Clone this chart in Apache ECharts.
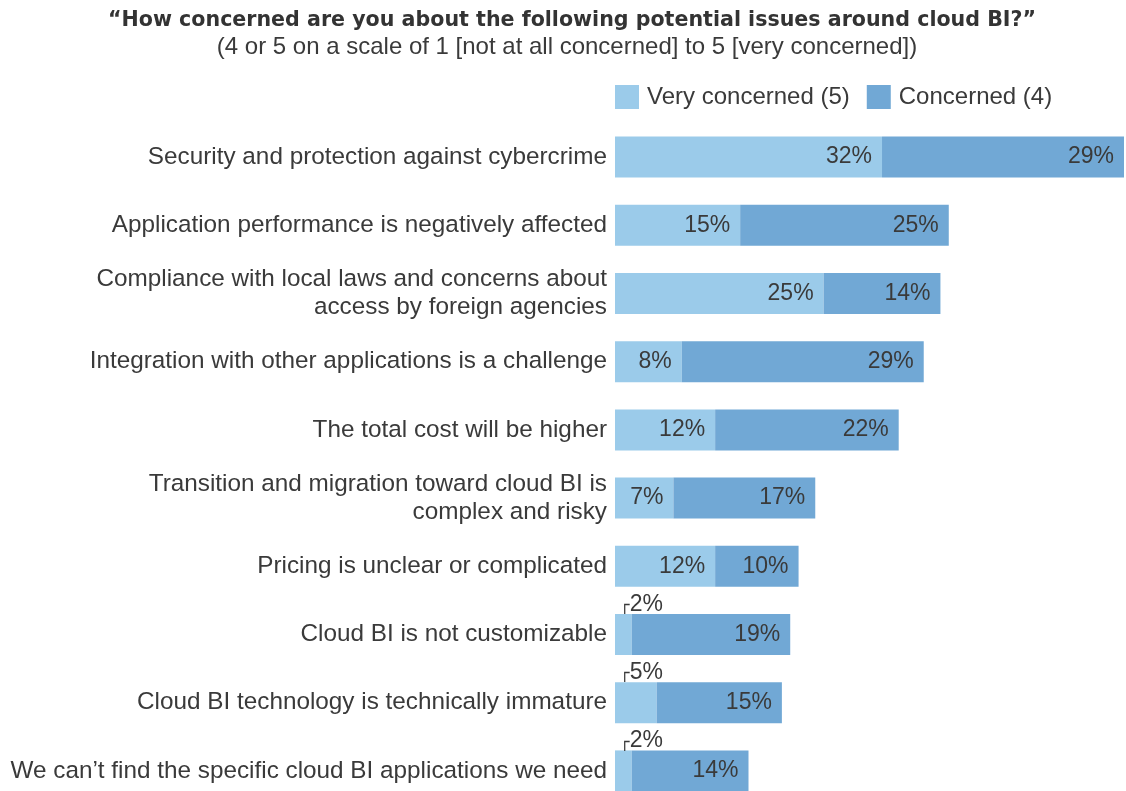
<!DOCTYPE html>
<html>
<head>
<meta charset="utf-8">
<script src="https://cdn.jsdelivr.net/npm/echarts@6/dist/echarts.min.js"></script>
<style>html,body{margin:0;padding:0;background:#fff;overflow:hidden}#c{width:1126px;height:830px}</style>
</head>
<body>
<div id="c"></div>
<script>
const categories = [
  'Security and protection against cybercrime',
  'Application performance is negatively affected',
  'Compliance with local laws and concerns about\naccess by foreign agencies',
  'Integration with other applications is a challenge',
  'The total cost will be higher',
  'Transition and migration toward cloud BI is\ncomplex and risky',
  'Pricing is unclear or complicated',
  'Cloud BI is not customizable',
  'Cloud BI technology is technically immature',
  'We can\u2019t find the specific cloud BI applications we need'
];
const veryConcerned = [32, 15, 25, 8, 12, 7, 12, 2, 5, 2];
const concerned = [29, 25, 14, 29, 22, 17, 10, 19, 15, 14];
const seriesNames = ['Very concerned (5)', 'Concerned (4)'];

const FONT = '"Liberation Sans", Arial, Helvetica, sans-serif';
const TXT = '#3a3a3a';

const insideLabel = {
  show: true, position: 'insideRight', distance: 10,
  formatter: p => p.value + '%',
  color: TXT, fontSize: 23, fontFamily: FONT
};
const smallLabel = {
  show: true, position: [5, 3], align: 'left', verticalAlign: 'bottom',
  formatter: p => '{k|\u250c}{v|' + p.value + '%}',
  rich: {
    k: { fontSize: 16, color: TXT, fontFamily: '"DejaVu Sans", sans-serif', padding: [6, 0, 3, 0], verticalAlign: 'bottom' },
    v: { fontSize: 23, color: TXT, fontFamily: FONT }
  }
};

const chart = echarts.init(document.getElementById('c'), null, { renderer: 'canvas' });
chart.setOption({
  animation: false,
  backgroundColor: '#fff',
  title: [
    { text: '\u201cHow concerned are you about the following potential issues around cloud BI?\u201d',
      left: 572, top: 10, textAlign: 'center', padding: 0,
      textStyle: { fontFamily: '"DejaVu Sans", sans-serif', fontWeight: 'bold', fontSize: 20.6, color: '#333' } },
    { text: '(4 or 5 on a scale of 1 [not at all concerned] to 5 [very concerned])',
      left: 567, top: 35, textAlign: 'center', padding: 0,
      textStyle: { fontFamily: FONT, fontWeight: 'normal', fontSize: 24, color: TXT } }
  ],
  legend: {
    left: 615, top: 85, itemWidth: 24, itemHeight: 24, itemGap: 17, padding: 0,
    icon: 'rect',
    textStyle: { fontFamily: FONT, fontSize: 24, color: TXT, padding: [0, 0, 0, 3] },
    data: seriesNames
  },
  grid: { left: 615, top: 123, width: 509, height: 682, containLabel: false },
  xAxis: { type: 'value', min: 0, max: 61, show: false },
  yAxis: {
    type: 'category', inverse: true, data: categories,
    axisLine: { show: false }, axisTick: { show: false }, splitLine: { show: false },
    axisLabel: { margin: 8, fontFamily: FONT, fontSize: 24.3, color: TXT, lineHeight: 28, align: 'right' }
  },
  series: [
    { name: seriesNames[0], type: 'bar', stack: 'a', barWidth: 41,
      itemStyle: { color: '#9bcbea' },
      label: insideLabel,
      data: veryConcerned.map(v => v < 6 ? { value: v, label: smallLabel } : v) },
    { name: seriesNames[1], type: 'bar', stack: 'a', barWidth: 41,
      itemStyle: { color: '#71a8d5' },
      label: insideLabel,
      data: concerned }
  ]
});
</script>
</body>
</html>
